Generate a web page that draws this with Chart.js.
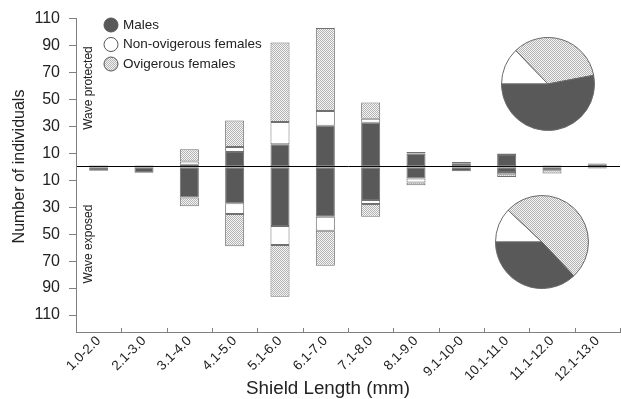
<!DOCTYPE html>
<html>
<head>
<meta charset="utf-8">
<script src="https://cdn.jsdelivr.net/npm/chart.js@4"></script>
<style>
  body { margin: 0; background: #fff; }
  #wrap { position: relative; width: 621px; height: 399px; }
  #pieTop { position: absolute; left: 501px; top: 37px; }
  #pieBottom { position: absolute; left: 495px; top: 195px; }
</style>
</head>
<body>
<div id="wrap">
  <canvas id="bars" width="621" height="399"></canvas>
  <canvas id="pieTop" width="94" height="94"></canvas>
  <canvas id="pieBottom" width="94" height="94"></canvas>
</div>
<script>
// shield length classes
const categories = ['1.0-2.0', '2.1-3.0', '3.1-4.0', '4.1-5.0', '5.1-6.0', '6.1-7.0',
  '7.1-8.0', '8.1-9.0', '9.1-10-0', '10.1-11.0', '11.1-12.0', '12.1-13.0'];

// wave protected (drawn above zero)
const protMales    = [1, 0, 1.5, 11, 16.7, 30.5, 32.7, 9.8, 2.6, 8.8, 1, 1.5];
const protNonOvig  = [0, 0, 2.5, 3.7, 16.5, 11, 3, 0, 0, 0, 0, 0];
const protOvig     = [0, 1, 9, 19.7, 59, 61.5, 12, 1.2, 1, 1, 0, 1];

// wave exposed (drawn below zero)
const expMales     = [3, 4.5, 22.8, 27, 44, 37, 24.6, 8.7, 3.3, 3.9, 2.5, 1.2];
const expNonOvig   = [0, 0, 0, 8, 14, 10.5, 3, 3, 0, 1.7, 0, 0];
const expOvig      = [0, 0, 6.5, 24, 38.5, 26, 9.4, 2, 0, 2, 2.5, 0];

// pie shares, order: non-ovigerous, ovigerous, males
const pieProtected = [12.8, 34.2, 53];
const pieExposed   = [12, 51, 37];

const yTickValues = [-110, -90, -70, -50, -30, -10, 0, 10, 30, 50, 70, 90, 110];
const legendLabels = ['Males', 'Non-ovigerous females', 'Ovigerous females'];

const FONT = "'Liberation Sans', Arial, sans-serif";
const DARK = '#595959';
const EDGE = '#707070';
const TEXT = '#222';

// fine grey stipple fill
function makeHatch() {
  const c = document.createElement('canvas');
  c.width = 2; c.height = 2;
  const g = c.getContext('2d');
  g.fillStyle = '#f4f4f4';
  g.fillRect(0, 0, 2, 2);
  g.fillStyle = '#b4b4b4';
  g.fillRect(0, 0, 1, 1);
  g.fillRect(1, 1, 1, 1);
  return g.createPattern(c, 'repeat');
}
const HATCH = makeHatch();
const fills = [DARK, '#ffffff', HATCH];

function bar(label, data, fill) {
  return {
    label: label, data: data, backgroundColor: fill,
    borderColor: EDGE, borderWidth: 1, borderSkipped: false,
    categoryPercentage: 1, barPercentage: 0.42
  };
}

function vText(ctx, t, x, y) {
  ctx.save();
  ctx.translate(x, y);
  ctx.rotate(-Math.PI / 2);
  ctx.fillText(t, 0, 0);
  ctx.restore();
}

// legend, titles, side labels and inner x ticks
const extras = {
  id: 'extras',
  afterDraw(chart) {
    const ctx = chart.ctx;
    const x = chart.scales.x;
    ctx.save();
    ctx.strokeStyle = '#808080';
    ctx.lineWidth = 1;
    const step = (x.right - x.left) / categories.length;
    for (let i = 1; i <= categories.length; i++) {
      const px = Math.round(x.left + i * step) + 0.5;
      ctx.beginPath();
      ctx.moveTo(px, x.top);
      ctx.lineTo(px, x.top - 4);
      ctx.stroke();
    }

    legendLabels.forEach((t, i) => {
      const cy = 25 + i * 19.5;
      ctx.beginPath();
      ctx.arc(111, cy, 7, 0, Math.PI * 2);
      ctx.fillStyle = fills[i];
      ctx.fill();
      ctx.strokeStyle = '#555';
      ctx.stroke();
      ctx.fillStyle = TEXT;
      ctx.font = '13.5px ' + FONT;
      ctx.textAlign = 'left';
      ctx.textBaseline = 'middle';
      ctx.fillText(t, 123, cy);
    });

    ctx.fillStyle = TEXT;
    ctx.textAlign = 'center';
    ctx.textBaseline = 'middle';
    ctx.font = '12px ' + FONT;
    vText(ctx, 'Wave protected', 89, 88);
    vText(ctx, 'Wave exposed', 89, 244);

    ctx.font = '16px ' + FONT;
    vText(ctx, 'Number of individuals', 20, 166.5);

    ctx.font = '18.8px ' + FONT;
    ctx.fillText('Shield Length (mm)', 328, 389);
    ctx.restore();
  }
};

new Chart(document.getElementById('bars'), {
  type: 'bar',
  data: {
    labels: categories,
    datasets: [
      bar('Males', protMales, DARK),
      bar('Non-ovigerous females', protNonOvig, '#ffffff'),
      bar('Ovigerous females', protOvig, HATCH),
      bar('Males exposed', expMales.map(v => -v), DARK),
      bar('Non-ovigerous exposed', expNonOvig.map(v => -v), '#ffffff'),
      bar('Ovigerous exposed', expOvig.map(v => -v), HATCH)
    ]
  },
  options: {
    responsive: false,
    animation: false,
    layout: { padding: { top: 17, right: 1, left: 0, bottom: 0 } },
    plugins: { legend: { display: false }, tooltip: { enabled: false } },
    scales: {
      x: {
        stacked: true,
        afterFit: s => { s.height = 67; },
        grid: { display: true, drawOnChartArea: false, drawTicks: false },
        border: { color: '#808080' },
        ticks: {
          color: TEXT, font: { family: FONT, size: 13.5 },
          minRotation: 45, maxRotation: 45, padding: 1, autoSkip: false
        }
      },
      y: {
        stacked: true,
        min: -122.6,
        max: 110,
        afterFit: s => { s.width = 76; },
        afterBuildTicks: s => { s.ticks = yTickValues.map(v => ({ value: v })); },
        grid: {
          color: c => (c.tick && c.tick.value === 0) ? '#000' : 'transparent',
          tickColor: c => (c.tick && c.tick.value === 0) ? 'transparent' : '#808080',
          tickLength: 7
        },
        border: { color: '#808080' },
        ticks: {
          color: TEXT, font: { family: FONT, size: 16 }, padding: 9,
          callback: v => v === 0 ? '' : Math.abs(v)
        }
      }
    }
  },
  plugins: [extras]
});

function pie(id, shares) {
  new Chart(document.getElementById(id), {
    type: 'pie',
    data: {
      labels: ['Non-ovigerous females', 'Ovigerous females', 'Males'],
      datasets: [{
        data: shares,
        backgroundColor: ['#ffffff', HATCH, DARK],
        borderColor: '#6a6a6a',
        borderWidth: 1
      }]
    },
    options: {
      responsive: false,
      animation: false,
      rotation: 270,
      layout: { padding: 0 },
      plugins: { legend: { display: false }, tooltip: { enabled: false } }
    }
  });
}
pie('pieTop', pieProtected);
pie('pieBottom', pieExposed);
</script>
</body>
</html>
